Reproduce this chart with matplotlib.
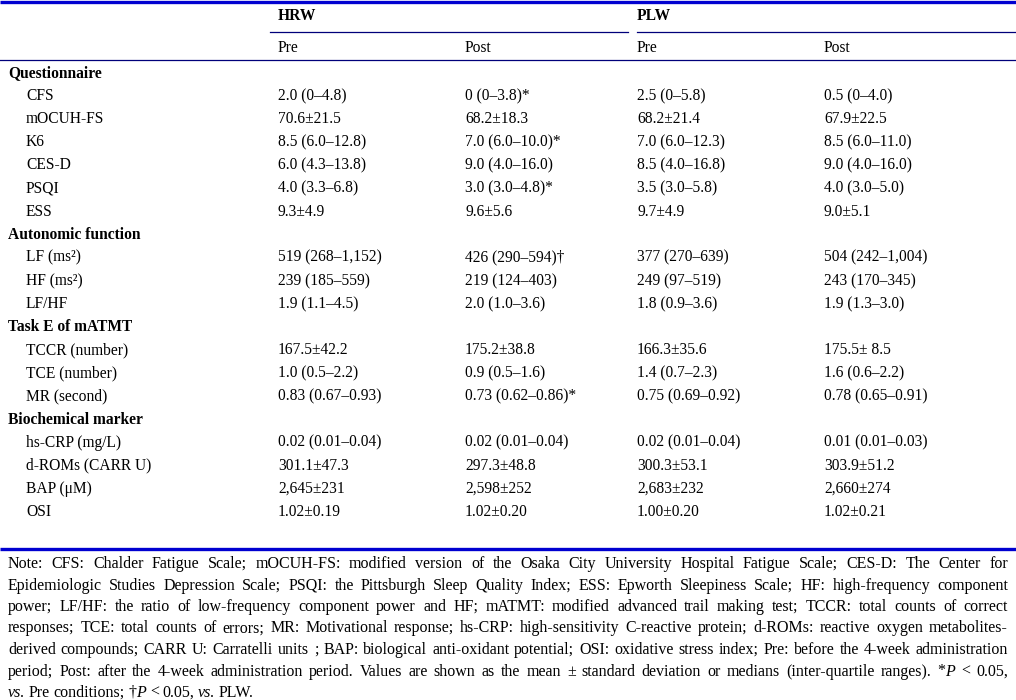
import re

import matplotlib
matplotlib.use("Agg")
import matplotlib.pyplot as plt

# -----------------------------
# DATA
# -----------------------------
GROUPS = ["HRW", "PLW"]
PHASES = ["Pre", "Post", "Pre", "Post"]

SECTIONS = ["Questionnaire", "Autonomic function", "Task E of mATMT", "Biochemical marker"]

ROW_LABELS = [
    ["CFS", "mOCUH-FS", "K6", "CES-D", "PSQI", "ESS"],
    ["LF (ms²)", "HF (ms²)", "LF/HF"],
    ["TCCR (number)", "TCE (number)", "MR (second)"],
    ["hs-CRP (mg/L)", "d-ROMs (CARR U)", "BAP (μM)", "OSI"],
]

HRW_PRE = [
    "2.0 (0–4.8)", "70.6±21.5", "8.5 (6.0–12.8)", "6.0 (4.3–13.8)", "4.0 (3.3–6.8)", "9.3±4.9",
    "519 (268–1,152)", "239 (185–559)", "1.9 (1.1–4.5)",
    "167.5±42.2", "1.0 (0.5–2.2)", "0.83 (0.67–0.93)",
    "0.02 (0.01–0.04)", "301.1±47.3", "2,645±231", "1.02±0.19",
]
HRW_POST = [
    "0 (0–3.8)*", "68.2±18.3", "7.0 (6.0–10.0)*", "9.0 (4.0–16.0)", "3.0 (3.0–4.8)*", "9.6±5.6",
    "426 (290–594)†", "219 (124–403)", "2.0 (1.0–3.6)",
    "175.2±38.8", "0.9 (0.5–1.6)", "0.73 (0.62–0.86)*",
    "0.02 (0.01–0.04)", "297.3±48.8", "2,598±252", "1.02±0.20",
]
PLW_PRE = [
    "2.5 (0–5.8)", "68.2±21.4", "7.0 (6.0–12.3)", "8.5 (4.0–16.8)", "3.5 (3.0–5.8)", "9.7±4.9",
    "377 (270–639)", "249 (97–519)", "1.8 (0.9–3.6)",
    "166.3±35.6", "1.4 (0.7–2.3)", "0.75 (0.69–0.92)",
    "0.02 (0.01–0.04)", "300.3±53.1", "2,683±232", "1.00±0.20",
]
PLW_POST = [
    "0.5 (0–4.0)", "67.9±22.5", "8.5 (6.0–11.0)", "9.0 (4.0–16.0)", "4.0 (3.0–5.0)", "9.0±5.1",
    "504 (242–1,004)", "243 (170–345)", "1.9 (1.3–3.0)",
    "175.5± 8.5", "1.6 (0.6–2.2)", "0.78 (0.65–0.91)",
    "0.01 (0.01–0.03)", "303.9±51.2", "2,660±274", "1.02±0.21",
]

# {..} marks italic runs
NOTE_LINES = [
    "Note: CFS: Chalder Fatigue Scale; mOCUH-FS: modified version of the Osaka City University Hospital Fatigue Scale; CES-D: The Center for",
    "Epidemiologic Studies Depression Scale; PSQI: the Pittsburgh Sleep Quality Index; ESS: Epworth Sleepiness Scale; HF: high-frequency component",
    "power; LF/HF: the ratio of low-frequency component power and HF; mATMT: modified advanced trail making test; TCCR: total counts of correct",
    "responses; TCE: total counts of errors; MR: Motivational response; hs-CRP: high-sensitivity C-reactive protein; d-ROMs: reactive oxygen metabolites-",
    "derived compounds; CARR U: Carratelli units ; BAP: biological anti-oxidant potential; OSI: oxidative stress index; Pre: before the 4-week administration",
    "period; Post: after the 4-week administration period. Values are shown as the mean ± standard deviation or medians (inter-quartile ranges). *{P} < 0.05,",
    "{vs.} Pre conditions; †{P} < 0.05, {vs.} PLW.",
]

# -----------------------------
# STYLE
# -----------------------------
W, H = 1016, 700
FONT = "Liberation Serif"
FS = 11.2
NOTE_FS = 11.5
NAVY = "#00007a"
BLUE = "#0000d0"

COL_X = [278, 465, 637, 824]
GROUP_X = [278, 637]
SECTION_X = 8
ITEM_X = 26
ROW_Y0 = 72
ROW_DY = 23.1
BASE = 5.0          # centre -> baseline offset
NOTE_Y0 = 563
NOTE_DY = 21.5
NOTE_LEFT, NOTE_RIGHT = 8, 1008

plt.rcParams["font.family"] = [FONT, "DejaVu Sans"]

fig = plt.figure(figsize=(W / 100, H / 100), dpi=100)
ax = fig.add_axes([0, 0, 1, 1])
ax.set_xlim(0, W)
ax.set_ylim(H, 0)
ax.axis("off")


def put(x, y, s, **kw):
    ax.text(x, y + BASE, s, fontsize=kw.pop("fontsize", FS), va="baseline", ha="left", **kw)


# rules
ax.plot([0, W], [1.5, 1.5], color=BLUE, lw=2.4, solid_capstyle="butt")
ax.plot([270, 628], [32, 32], color=NAVY, lw=0.9)
ax.plot([637, W], [32, 32], color=NAVY, lw=0.9)
ax.plot([0, W], [60, 60], color=NAVY, lw=0.9)
ax.plot([0, W], [549, 549], color=BLUE, lw=2.4, solid_capstyle="butt")

# header
for gx, g in zip(GROUP_X, GROUPS):
    put(gx, 15, g, fontweight="bold")
for cx, p in zip(COL_X, PHASES):
    put(cx, 47, p)

# body
columns = [HRW_PRE, HRW_POST, PLW_PRE, PLW_POST]
row = 0
k = 0
for sec, labels in zip(SECTIONS, ROW_LABELS):
    put(SECTION_X, ROW_Y0 + row * ROW_DY, sec, fontweight="bold")
    row += 1
    for lab in labels:
        y = ROW_Y0 + row * ROW_DY
        put(ITEM_X, y, lab)
        for cx, col in zip(COL_X, columns):
            put(cx, y, col[k])
        row += 1
        k += 1

# note, justified
renderer = fig.canvas.get_renderer()


def split_parts(word):
    parts = []
    for i, seg in enumerate(re.split(r"\{([^}]*)\}", word)):
        if seg:
            parts.append((seg, i % 2 == 1))
    return parts


def text_width(s, italic):
    t = ax.text(0, 0, s, fontsize=NOTE_FS, style="italic" if italic else "normal")
    bb = t.get_window_extent(renderer)
    t.remove()
    return bb.width


for li, line in enumerate(NOTE_LINES):
    y = NOTE_Y0 + li * NOTE_DY
    words = [split_parts(w) for w in line.split(" ")]
    widths = [[text_width(s, it) for s, it in w] for w in words]
    total = sum(sum(ws) for ws in widths)
    last = li == len(NOTE_LINES) - 1
    gap = 3.6 if last else (NOTE_RIGHT - NOTE_LEFT - total) / (len(words) - 1)
    x = NOTE_LEFT
    for w, ws in zip(words, widths):
        for (s, it), wd in zip(w, ws):
            put(x, y, s, fontsize=NOTE_FS, style="italic" if it else "normal")
            x += wd
        x += gap

fig.savefig("out.png", dpi=100)
